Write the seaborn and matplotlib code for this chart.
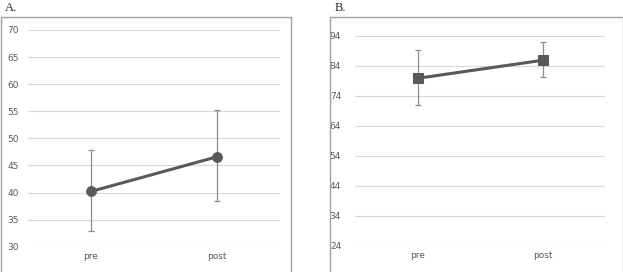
import numpy as np
import pandas as pd
import seaborn as sns
import matplotlib.pyplot as plt
from matplotlib.patches import Rectangle

# datos
momentos = ["pre", "post"]
media_a = [40.2, 46.6]
inf_a = [32.9, 38.4]
sup_a = [47.9, 55.2]
media_b = [79.8, 85.8]
inf_b = [70.9, 80.2]
sup_b = [89.2, 91.9]
ticks_a = [30, 35, 40, 45, 50, 55, 60, 65, 70]
ticks_b = [24, 34, 44, 54, 64, 74, 84, 94]

W, H = 623, 272
sns.set_style("white")
plt.rcParams['font.family'] = ['DejaVu Sans']

fig = plt.figure(figsize=(W / 100, H / 100), dpi=100)


def px_axes(x0, x1, ytop, ybot):
    return fig.add_axes([x0 / W, 1 - ybot / H, (x1 - x0) / W, (ybot - ytop) / H])


def panel(ax, media, inf, sup, ticks, marker, msize, ypad):
    df = pd.DataFrame({"momento": momentos, "valor": media})
    err = [np.array(media) - np.array(inf), np.array(sup) - np.array(media)]
    ax.errorbar([0, 1], media, yerr=err, fmt="none", ecolor="#8c8c8c",
                elinewidth=0.9, capsize=2.5, capthick=0.9, zorder=2)
    sns.lineplot(data=df, x="momento", y="valor", ax=ax, color="#595959",
                 linewidth=2.2, marker=marker, markersize=msize,
                 markeredgecolor="#595959", sort=False, zorder=3)
    ax.set_xlim(-0.5, 1.5)
    ax.set_ylim(ticks[0], ticks[-1])
    ax.set_yticks(ticks)
    ax.set_xticks([0, 1])
    ax.set_xticklabels(momentos)
    ax.set_xlabel("")
    ax.set_ylabel("")
    ax.grid(axis="y", color="#d9d9d9", linewidth=0.8)
    ax.set_axisbelow(True)
    for s in ax.spines.values():
        s.set_visible(False)
    ax.tick_params(axis="y", length=0, pad=ypad, labelsize=6.5, labelcolor="#595959")
    ax.tick_params(axis="x", length=0, pad=4, labelsize=6.5, labelcolor="#595959")
    ax.patch.set_alpha(0)


# marcos exteriores
for x0, x1 in [(0.5, 290.5), (329.5, 622.5)]:
    fig.add_artist(Rectangle((x0 / W, -0.1), (x1 - x0) / W, 1.1 - 17.3 / H,
                             transform=fig.transFigure, fill=False,
                             edgecolor="#a0a0a0", linewidth=1.0))

ax_a = px_axes(28, 280, 30, 246.7)
panel(ax_a, media_a, inf_a, sup_a, ticks_a, "o", 7, 6.5)
ax_b = px_axes(355, 605, 35.7, 245.7)
panel(ax_b, media_b, inf_b, sup_b, ticks_b, "s", 6.5, 10)

fig.text(5 / W, 1 - 8 / H, "A.", family="Liberation Serif", fontsize=9, va="center")
fig.text(335 / W, 1 - 8 / H, "B.", family="Liberation Serif", fontsize=9, va="center")

plt.savefig("out.png", dpi=100)
